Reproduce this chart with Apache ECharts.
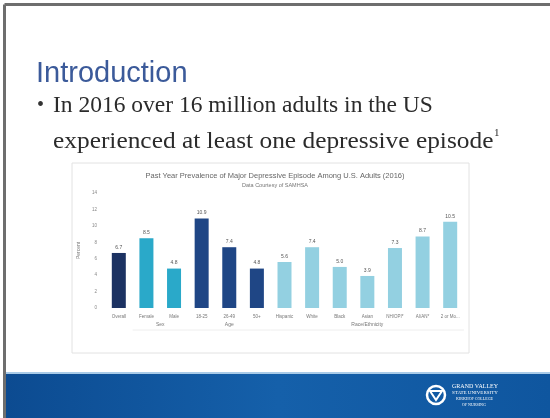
<!DOCTYPE html>
<html><head><meta charset="utf-8">
<script src="https://cdn.jsdelivr.net/npm/echarts@6/dist/echarts.min.js"></script>
<style>html,body{margin:0;padding:0;background:#fff}#c{width:550px;height:418px}</style>
</head><body><div id="c"></div>
<script>
var categories = ['Overall','Female','Male','18-25','26-49','50+','Hispanic','White','Black','Asian','NH/OPI*','AI/AN*','2 or More'];
var values = [6.7, 8.5, 4.8, 10.9, 7.4, 4.8, 5.6, 7.4, 5.0, 3.9, 7.3, 8.7, 10.5];
var groupNames = ['Sex', 'Age', 'Race/Ethnicity'];
var groupStart = [1, 3, 6];
var groupEnd = [2, 5, 12];
var yTicks = [0, 2, 4, 6, 8, 10, 12, 14];

var groupColors = ['#1c3262', '#2aa9c9', '#1f4685', '#93d0e1'];
function colorFor(i) {
  for (var g = 0; g < groupStart.length; g++) {
    if (i >= groupStart[g] && i <= groupEnd[g]) return groupColors[g + 1];
  }
  return groupColors[0];
}

var chart = echarts.init(document.getElementById('c'), null, {renderer: 'canvas'});
var bodyFont = '23.5px "Liberation Serif", "Times New Roman", serif';
var graphicsBase = [
  {type:'rect', z:-10, shape:{x:0,y:0,width:550,height:418}, style:{fill:'#ffffff'}},
  {type:'line', z:-5, shape:{x1:4.5,y1:4.5,x2:4.5,y2:418}, style:{stroke:'#6e6e6e',lineWidth:3}},
  {type:'line', z:-5, shape:{x1:4.5,y1:4.5,x2:550,y2:4.5}, style:{stroke:'#6e6e6e',lineWidth:3}},
  {type:'rect', z:-5, shape:{x:6,y:372,width:544,height:2}, style:{fill:'#a9cbe8'}},
  {type:'rect', z:-5, shape:{x:6,y:374,width:544,height:44}, style:{fill:new echarts.graphic.LinearGradient(0,0,1,0,[{offset:0,color:'#0c4b91'},{offset:0.5,color:'#1560aa'},{offset:1,color:'#0f569f'}])}},
  {type:'text', x:36, y:74, style:{text:'Introduction', font:'29px "Liberation Sans", Arial, sans-serif', fill:'#3b5a9a', verticalAlign:'middle'}},
  {type:'text', x:37, y:106, style:{text:'\u2022', font:'20px "Liberation Serif", serif', fill:'#333', verticalAlign:'middle'}},
  {type:'text', x:53, y:106, style:{text:'In 2016 over 16 million adults in the US', font:bodyFont, fill:'#2b2b2b', verticalAlign:'middle'}},
  {type:'text', x:53, y:142, scaleX:1.08, style:{text:'experienced at least one depressive episode', font:bodyFont, fill:'#2b2b2b', verticalAlign:'middle'}},
  {type:'text', x:494, y:133, style:{text:'1', font:'11px "Liberation Serif", serif', fill:'#2b2b2b', verticalAlign:'middle'}},
  {type:'rect', z:-4, shape:{x:72,y:163,width:397,height:190}, style:{fill:'#fff',stroke:'#e2e2e2',lineWidth:1}},
  {type:'circle', shape:{cx:436,cy:395,r:9}, style:{fill:'none',stroke:'#ffffff',lineWidth:2.5}},
  {type:'polygon', shape:{points:[[430,391],[442,391],[436,400]]}, style:{fill:'none',stroke:'#ffffff',lineWidth:2}},
  {type:'text', left:452, top:383, style:{text:'GRAND VALLEY', font:'6px "Liberation Serif", serif', fill:'#ffffff'}},
  {type:'text', left:452, top:390, style:{text:'STATE UNIVERSITY', font:'5px "Liberation Serif", serif', fill:'#ffffff'}},
  {type:'text', left:456, top:397, style:{text:'KIRKHOF COLLEGE', font:'4px "Liberation Serif", serif', fill:'#ffffff'}},
  {type:'text', left:462, top:403, style:{text:'OF NURSING', font:'4px "Liberation Serif", serif', fill:'#ffffff'}}
];

var option = {
  animation: false,
  backgroundColor: 'transparent',
  title: {
    text: 'Past Year Prevalence of Major Depressive Episode Among U.S. Adults (2016)',
    subtext: 'Data Courtesy of SAMHSA',
    left: 270, top: 167, textAlign: 'center', itemGap: 2,
    textStyle: {fontSize: 7.5, fontWeight: 'normal', color: '#666', fontFamily: 'Liberation Sans'},
    subtextStyle: {fontSize: 5.5, color: '#777', fontFamily: 'Liberation Sans'}
  },
  grid: {left: 105, right: 86, top: 193, bottom: 110, containLabel: false},
  xAxis: {
    type: 'category', data: categories,
    axisLine: {show: false}, axisTick: {show: false},
    axisLabel: {fontSize: 4.5, color: '#777', margin: 6, interval: 0, fontFamily: 'Liberation Sans',
      formatter: function (v) { return v.length > 8 ? v.slice(0, 7) + '...' : v; }}
  },
  yAxis: {
    type: 'value', min: 0, max: 14, interval: 2,
    name: 'Percent', nameLocation: 'middle', nameGap: 14, nameRotate: 90,
    nameTextStyle: {fontSize: 5, color: '#777', fontFamily: 'Liberation Sans'},
    axisLine: {show: false}, axisTick: {show: false}, splitLine: {show: false},
    axisLabel: {fontSize: 4.5, color: '#888', margin: 8,
      formatter: function (v) { return yTicks.indexOf(v) >= 0 ? String(v) : ''; }}
  },
  series: [{
    type: 'bar', barWidth: 14,
    data: values.map(function (v, i) { return {value: v, itemStyle: {color: colorFor(i)}}; }),
    label: {show: true, position: 'top', distance: 3, fontSize: 5, color: '#555',
      formatter: function (p) { return p.value.toFixed(1); }}
  }],
  graphic: graphicsBase
};
chart.setOption(option);

var extra = [];
var yLab = 325, yLine = 330;
for (var g = 0; g < groupNames.length; g++) {
  var a = chart.convertToPixel({xAxisIndex: 0}, categories[groupStart[g]]);
  var b = chart.convertToPixel({xAxisIndex: 0}, categories[groupEnd[g]]);
  var half = 13.8;
  extra.push({type:'text', x:(a+b)/2, y:yLab, style:{text:groupNames[g], font:'5px "Liberation Sans", sans-serif', fill:'#777', align:'center', verticalAlign:'middle'}});
  extra.push({type:'line', shape:{x1:a-half, y1:yLine, x2:b+half, y2:yLine}, style:{stroke:'#eeeeee', lineWidth:1}});
}
chart.setOption({graphic: graphicsBase.concat(extra)});
</script></body></html>
